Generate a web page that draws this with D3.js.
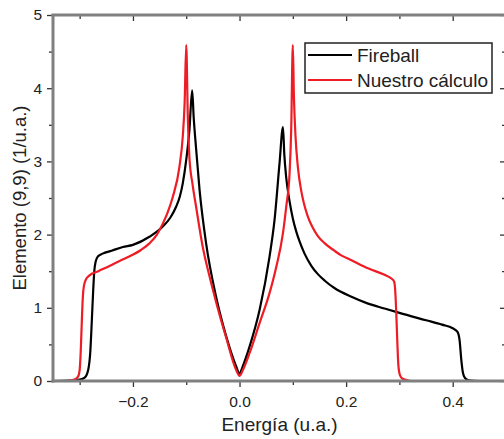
<!DOCTYPE html>
<html>
<head>
<meta charset="utf-8">
<script src="https://cdn.jsdelivr.net/npm/d3@7"></script>
<style>
  body { margin: 0; background: #fff; }
  svg { display: block; font-family: "Liberation Sans", Arial, sans-serif; }
  .line { fill: none; stroke-width: 2.2; stroke-linejoin: round; }
</style>
</head>
<body>
<script>
// Fireball curve (energy, value)
var fireX = [-0.35,-0.32,-0.30,-0.29,-0.284,-0.28,-0.277,-0.2745,-0.2725,-0.27,-0.266,-0.257,-0.24,-0.219,-0.2,-0.169,-0.144,-0.13,-0.119,-0.112,-0.1065,-0.1,-0.094,-0.0889,-0.086,-0.0818,-0.075,-0.0627,-0.044,-0.025,-0.0063,0,0.006,0.0188,0.0376,0.0563,0.0657,0.075,0.0815,0.084,0.0876,0.094,0.1,0.1065,0.113,0.122,0.135,0.147,0.16,0.178,0.21,0.24,0.272,0.3,0.35,0.38,0.4,0.409,0.413,0.416,0.419,0.423,0.43,0.45,0.5];
var fireY = [0,0.005,0.02,0.05,0.15,0.4,0.85,1.25,1.5,1.63,1.70,1.74,1.78,1.83,1.86,1.97,2.11,2.23,2.38,2.52,2.70,3.02,3.43,3.97,3.6,3.2,2.61,1.88,1.15,0.61,0.2,0.1,0.2,0.47,0.97,1.70,2.2,2.97,3.47,3.1,2.78,2.45,2.22,2.04,1.9,1.74,1.57,1.46,1.37,1.27,1.15,1.06,0.99,0.93,0.83,0.77,0.72,0.67,0.55,0.3,0.12,0.04,0.01,0,0];

// Nuestro cálculo curve
var ourX = [-0.323,-0.31,-0.303,-0.3,-0.298,-0.296,-0.294,-0.292,-0.288,-0.282,-0.265,-0.244,-0.225,-0.207,-0.185,-0.169,-0.155,-0.144,-0.135,-0.125,-0.1127,-0.1065,-0.103,-0.1,-0.097,-0.094,-0.088,-0.0815,-0.069,-0.056,-0.044,-0.025,-0.0063,0,0.0063,0.0188,0.0376,0.0563,0.069,0.0815,0.0876,0.094,0.097,0.1,0.102,0.105,0.1094,0.1157,0.121,0.128,0.137,0.147,0.16,0.178,0.19,0.21,0.241,0.272,0.285,0.29,0.292,0.294,0.296,0.298,0.301,0.306,0.315,0.32];
var ourY = [0,0.02,0.06,0.15,0.4,0.8,1.15,1.3,1.39,1.44,1.50,1.57,1.64,1.70,1.79,1.88,2.0,2.15,2.3,2.52,2.93,3.34,3.8,4.59,3.6,3.05,2.68,2.38,1.83,1.42,1.08,0.59,0.15,0.07,0.15,0.38,0.79,1.2,1.56,2.02,2.38,2.85,3.45,4.59,3.9,3.35,2.93,2.6,2.42,2.25,2.1,1.98,1.88,1.78,1.72,1.65,1.54,1.45,1.40,1.36,1.25,0.95,0.55,0.22,0.08,0.03,0.01,0];

var xMajor = [-0.2, 0.0, 0.2, 0.4];
var xMinor = [-0.3, -0.1, 0.1, 0.3];
var yMajor = [0, 1, 2, 3, 4, 5];
var yMinor = [0.5, 1.5, 2.5, 3.5, 4.5];

var seriesNames = ["Fireball", "Nuestro cálculo"];
var seriesColors = ["#000000", "#ee1c25"];

var W = 504, H = 439;
var margin = {top: 15, right: -2, bottom: 58, left: 53},
    width = W - margin.left - margin.right,
    height = H - margin.top - margin.bottom;

var x = d3.scaleLinear().domain([-0.35, 0.5]).range([0, width]);
var y = d3.scaleLinear().domain([0, 5]).range([height, 0]);

var svg = d3.select("body").append("svg")
    .attr("width", W)
    .attr("height", H);

var g = svg.append("g")
    .attr("transform", "translate(" + margin.left + "," + margin.top + ")");

var axisColor = "#808080";
var tickColor = "#333";

function styleAxis(sel, hideLabels) {
  sel.select(".domain").remove();
  sel.selectAll(".tick line").attr("stroke", tickColor).attr("stroke-width", 1.3);
  sel.selectAll(".tick text")
    .attr("fill", "#222")
    .style("font-size", "15.5px")
    .style("font-family", "Liberation Sans, Arial, sans-serif");
  if (hideLabels) sel.selectAll(".tick text").remove();
}

// bottom axis
g.append("g")
  .attr("transform", "translate(0," + height + ")")
  .call(d3.axisBottom(x).tickValues(xMajor).tickSize(6).tickPadding(9)
    .tickFormat(d3.format(".1f")))
  .call(styleAxis);
g.append("g")
  .attr("transform", "translate(0," + height + ")")
  .call(d3.axisBottom(x).tickValues(xMinor).tickSize(4))
  .call(styleAxis, true);

// top axis (ticks inward)
g.append("g")
  .call(d3.axisBottom(x).tickValues(xMajor).tickSize(6))
  .call(styleAxis, true);
g.append("g")
  .call(d3.axisBottom(x).tickValues(xMinor).tickSize(4))
  .call(styleAxis, true);

// left axis
g.append("g")
  .call(d3.axisLeft(y).tickValues(yMajor).tickSize(6).tickPadding(5)
    .tickFormat(d3.format("d")))
  .call(styleAxis);
g.append("g")
  .call(d3.axisLeft(y).tickValues(yMinor).tickSize(4))
  .call(styleAxis, true);

// right axis (ticks inward)
g.append("g")
  .attr("transform", "translate(" + width + ",0)")
  .call(d3.axisLeft(y).tickValues(yMajor).tickSize(6))
  .call(styleAxis, true);
g.append("g")
  .attr("transform", "translate(" + width + ",0)")
  .call(d3.axisLeft(y).tickValues(yMinor).tickSize(4))
  .call(styleAxis, true);

// curves
var line = d3.line()
    .x(function(d) { return x(d[0]); })
    .y(function(d) { return y(d[1]); })
    .curve(d3.curveMonotoneX);

var fireData = fireX.map(function(v, i) { return [v, fireY[i]]; });
var ourData = ourX.map(function(v, i) { return [v, ourY[i]]; });

g.append("path")
  .datum(fireData)
  .attr("class", "line")
  .attr("stroke", seriesColors[0])
  .attr("d", line);

g.append("path")
  .datum(ourData)
  .attr("class", "line")
  .attr("stroke", seriesColors[1])
  .attr("d", line);

// frame lines
g.append("line").attr("x1", 0).attr("x2", 0).attr("y1", -1).attr("y2", height + 1.5)
  .attr("stroke", axisColor).attr("stroke-width", 3);
g.append("line").attr("x1", -1.5).attr("x2", width).attr("y1", height).attr("y2", height)
  .attr("stroke", axisColor).attr("stroke-width", 3);
g.append("line").attr("x1", -1.5).attr("x2", width).attr("y1", 0).attr("y2", 0)
  .attr("stroke", axisColor).attr("stroke-width", 3);
g.append("line").attr("x1", width).attr("x2", width).attr("y1", 0).attr("y2", height)
  .attr("stroke", axisColor).attr("stroke-width", 3);

// axis labels
svg.append("text")
  .attr("x", margin.left + width / 2)
  .attr("y", 431)
  .attr("text-anchor", "middle")
  .attr("fill", "#222")
  .style("font-size", "19px")
  .text("Energía (u.a.)");

svg.append("text")
  .attr("transform", "translate(26," + (margin.top + height / 2) + ") rotate(-90)")
  .attr("text-anchor", "middle")
  .attr("fill", "#222")
  .style("font-size", "18.5px")
  .text("Elemento (9,9) (1/u.a.)");

// legend
var legend = svg.append("g").attr("transform", "translate(305,43)");
legend.append("rect")
  .attr("width", 187).attr("height", 50)
  .attr("fill", "#fff").attr("stroke", "#222").attr("stroke-width", 1.5);
seriesNames.forEach(function(name, i) {
  var ly = 12 + i * 25;
  legend.append("line")
    .attr("x1", 3).attr("x2", 47).attr("y1", ly).attr("y2", ly)
    .attr("stroke", seriesColors[i]).attr("stroke-width", 2.2);
  legend.append("text")
    .attr("x", 52).attr("y", ly + 7)
    .attr("fill", "#222")
    .style("font-size", "19px")
    .text(name);
});
</script>
</body>
</html>
